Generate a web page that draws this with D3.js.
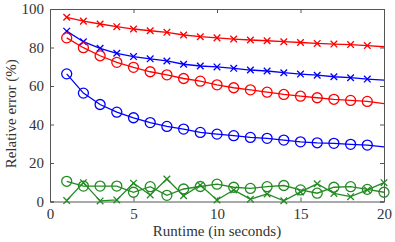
<html>
  <head>
    <script src="https://cdn.jsdelivr.net/npm/d3@7"></script>
    <style>
      body { margin: 0; background: #fff; }
      text { font-family: "Liberation Serif", "Times New Roman", serif; fill: #333; }
    </style>
  </head>
  <body>
    <div id="chart"></div>
  </body>
  <script>
    // runtime in seconds
    let runtime = d3.range(1, 21)

    // relative error (%) per method
    let redCross   = [95.7, 93.7, 92.2, 90.8, 89.6, 88.7, 87.9, 86.5, 85.6, 85.0, 84.4, 83.9, 83.5, 83.0, 82.6, 82.1, 81.8, 81.5, 81.0, 80.4]
    let blueCross  = [88.5, 83.0, 79.6, 77.0, 75.3, 74.1, 73.0, 71.3, 70.4, 69.9, 69.2, 68.3, 67.8, 66.9, 66.2, 65.6, 64.8, 64.3, 63.6, 63.0]
    let redCircle  = [85.0, 79.9, 75.7, 72.3, 69.7, 67.4, 65.8, 63.9, 62.5, 60.6, 59.1, 58.0, 56.8, 55.6, 54.7, 53.9, 53.1, 52.5, 52.0, 50.8]
    let blueCircle = [66.3, 56.3, 50.4, 46.4, 43.5, 41.0, 39.0, 37.6, 35.9, 35.0, 34.2, 33.3, 32.8, 31.9, 31.0, 30.5, 30.2, 29.7, 29.3, 28.4]
    let greenCircle = [10.5, 8.0, 8.0, 8.0, 4.8, 7.7, 3.2, 6.5, 7.8, 9.0, 7.4, 6.8, 7.7, 8.3, 6.0, 4.3, 7.4, 7.7, 6.3, 4.8]
    let greenCross  = [0.5, 9.8, 0.3, 0.8, 9.5, 3.4, 11.7, 3.0, 8.5, 0.8, 6.0, 1.2, 3.9, 0.4, 5.0, 9.2, 4.2, 2.5, 6.0, 9.8]

    let xTicks = [0, 5, 10, 15, 20]
    let yTicks = [0, 20, 40, 60, 80, 100]

    let series = [
      {values: redCross, color: '#ff0000', marker: 'x', endMarker: false},
      {values: blueCross, color: '#0000ff', marker: 'x', endMarker: false},
      {values: redCircle, color: '#ff0000', marker: 'o', endMarker: false},
      {values: blueCircle, color: '#0000ff', marker: 'o', endMarker: false},
      {values: greenCircle, color: '#228b22', marker: 'o', endMarker: true},
      {values: greenCross, color: '#228b22', marker: 'x', endMarker: true}
    ]

    function createLineChart () {
      let W = 395, H = 242
      let margin = {top: 9, right: 11, bottom: 40.5, left: 50},
          width = W - margin.left - margin.right,
          height = H - margin.top - margin.bottom

      let svg = d3.select("#chart").append("svg")
        .attr("width", W)
        .attr("height", H)
        .append("g")
        .attr("transform", "translate(" + margin.left + "," + margin.top + ")")

      let x = d3.scaleLinear().domain([0, 20]).range([0, width])
      let y = d3.scaleLinear().domain([0, 100]).range([height, 0])

      // axes, ticks pointing inward, box all round
      let axisColor = '#555'
      let xb = svg.append("g").attr("transform", "translate(0," + height + ")")
        .call(d3.axisBottom(x).tickValues(xTicks).tickSize(-4).tickPadding(7))
      let xt = svg.append("g")
        .call(d3.axisTop(x).tickValues(xTicks).tickSize(-4).tickFormat(""))
      let yl = svg.append("g")
        .call(d3.axisLeft(y).tickValues(yTicks).tickSize(-4).tickPadding(6))
      let yr = svg.append("g").attr("transform", "translate(" + width + ",0)")
        .call(d3.axisRight(y).tickValues(yTicks).tickSize(-4).tickFormat(""))

      ;[xb, xt, yl, yr].forEach(g => {
        g.select(".domain").attr("stroke", axisColor)
        g.selectAll(".tick line").attr("stroke", axisColor)
        g.selectAll("text").style("font-size", "15px").attr("fill", "#333")
          .style("font-family", '"Liberation Serif", serif')
      })

      // lines
      let line = d3.line()
        .x((d, i) => x(runtime[i]))
        .y(d => y(d))

      series.forEach(s => {
        svg.append("path")
          .datum(s.values)
          .attr("fill", "none")
          .attr("stroke", s.color)
          .attr("stroke-width", 1.3)
          .attr("d", line)

        let pts = s.values.map((v, i) => ({x: runtime[i], y: v}))
          .filter(p => s.endMarker || p.x < 20)

        let g = svg.append("g")
        if (s.marker === 'o') {
          g.selectAll("circle").data(pts).enter().append("circle")
            .attr("cx", d => x(d.x))
            .attr("cy", d => y(d.y))
            .attr("r", 5)
            .attr("fill", "none")
            .attr("stroke", s.color)
            .attr("stroke-width", 1.3)
        } else {
          let r = 3.3
          g.selectAll("path").data(pts).enter().append("path")
            .attr("d", d => {
              let cx = x(d.x), cy = y(d.y)
              return "M" + (cx - r) + "," + (cy - r) + "L" + (cx + r) + "," + (cy + r) +
                     "M" + (cx - r) + "," + (cy + r) + "L" + (cx + r) + "," + (cy - r)
            })
            .attr("stroke", s.color)
            .attr("stroke-width", 1.3)
        }
      })

      // axis titles
      svg.append("text")
        .attr("x", width / 2)
        .attr("y", height + 34)
        .attr("text-anchor", "middle")
        .style("font-size", "15px")
        .text("Runtime (in seconds)")

      svg.append("text")
        .attr("transform", "translate(" + (-34.5) + "," + (height / 2 + 8.5) + ") rotate(-90)")
        .attr("text-anchor", "middle")
        .style("font-size", "15px")
        .text("Relative error (%)")
    }

    createLineChart()
  </script>
</html>
